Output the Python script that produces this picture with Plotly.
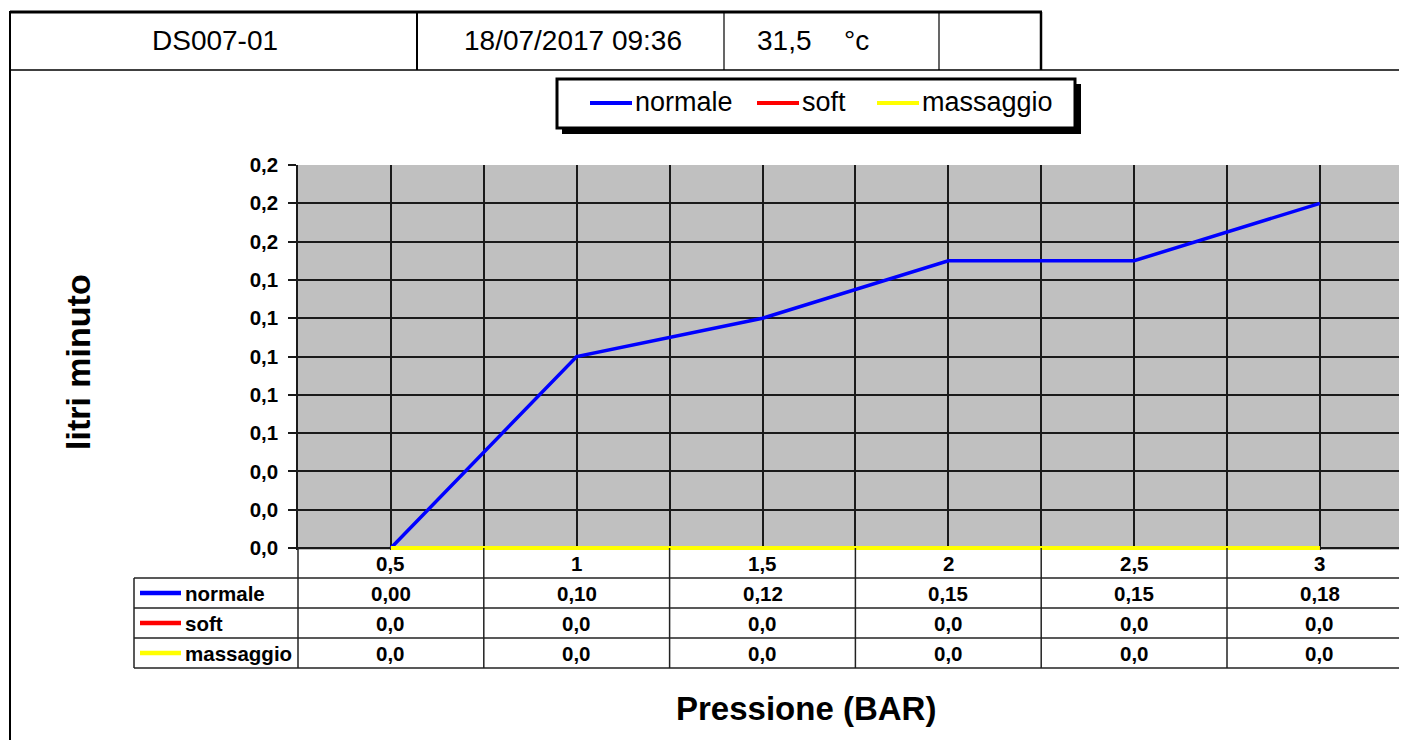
import plotly.graph_objects as go

# ---------------- data ----------------
pressione = [0.5, 1, 1.5, 2, 2.5, 3]
normale = [0.00, 0.10, 0.12, 0.15, 0.15, 0.18]
soft = [0.0, 0.0, 0.0, 0.0, 0.0, 0.0]
massaggio = [0.0, 0.0, 0.0, 0.0, 0.0, 0.0]
series_names = ["normale", "soft", "massaggio"]
series_colors = ["#0000FF", "#FF0000", "#FFFF00"]
series_decimals = [2, 1, 1]
header_cells = ["DS007-01", "18/07/2017 09:36", "31,5", "°c"]
y_ticks = [0.0, 0.02, 0.04, 0.06, 0.08, 0.10, 0.12, 0.14, 0.16, 0.18, 0.20]

FONT = "Liberation Sans, Arial, sans-serif"

# ---------------- geometry (screen pixels) ----------------
OFF = 8  # page body margin
WIDTH, HEIGHT = 1407, 740
L, R, T, B = 298, 1407, 165, 550
Y0PX = 548  # pixel row of value 0
PW, PH = R - L, B - T
STEP = 185.8  # pixels per category
xmin = -0.5
xmax = xmin + PW / STEP
ymax = 0.2
ymin = -ymax * (B - Y0PX) / (Y0PX - T)


def px(x):
    return (x - L) / PW


def py(y):
    return (B - y) / PH


def dx(v):
    return (v - xmin) / (xmax - xmin)


xi = list(range(len(pressione)))
all_series = [normale, soft, massaggio]

fig = go.Figure()
for name, vals, col in zip(series_names, all_series, series_colors):
    fig.add_trace(go.Scatter(
        x=xi, y=vals, mode="lines", name=name,
        line=dict(color=col, width=4 if name != "normale" else 3.5),
        showlegend=False, hoverinfo="skip"))

shapes = []
ann = []


def line(x0, y0, x1, y1, w=1.5, c="#222"):
    shapes.append(dict(type="line", xref="paper", yref="paper",
                       x0=px(x0), y0=py(y0), x1=px(x1), y1=py(y1),
                       line=dict(color=c, width=w), layer="above"))


def text(x, y, s, size, bold=False, xanchor="center", yanchor="middle", xref="paper", angle=0):
    ann.append(dict(x=x if xref == "x" else px(x), y=py(y), xref=xref, yref="paper",
                    text=s, showarrow=False, xanchor=xanchor, yanchor=yanchor,
                    textangle=angle,
                    font=dict(family=FONT, size=size, color="#000",
                              weight="bold" if bold else "normal")))


# ---------------- header table ----------------
line(10, 12, 1042, 12, 3, "#000")
line(10, 11, 10, 760, 2, "#000")
line(10, 70, 1420, 70, 1.5, "#000")
line(417, 12, 417, 70, 2, "#000")
line(724, 12, 724, 70, 1.2, "#000")
line(939, 12, 939, 70, 1.2, "#000")
line(1041, 12, 1041, 70, 2.5, "#000")
text(215, 41, header_cells[0], 28)
text(573, 41, header_cells[1], 28)
text(755, 41, header_cells[2], 28, xanchor="left")
text(842, 41, header_cells[3], 28, xanchor="left")

# ---------------- legend box ----------------
shapes.append(dict(type="rect", xref="paper", yref="paper",
                   x0=px(562), y0=py(134), x1=px(1081), y1=py(84),
                   fillcolor="#000", line=dict(width=0), layer="above"))
shapes.append(dict(type="rect", xref="paper", yref="paper",
                   x0=px(557), y0=py(128), x1=px(1075), y1=py(79),
                   fillcolor="#fff", line=dict(color="#000", width=3), layer="above"))
leg_x = [590, 757, 877]
for lx, name, col in zip(leg_x, series_names, series_colors):
    line(lx, 103, lx + 42, 103, 4, col)
    text(lx + 43, 102, name, 27, xanchor="left")

# ---------------- data table ----------------
rows_y = [578, 608, 638, 668]
for ry in rows_y:
    line(134, ry, 1420, ry, 1.5)
line(134, 578, 134, 668, 1.5)
line(L, 548, L, 668, 1.5)
for k in range(len(pressione)):
    xb = xi[k] + 0.5
    if xb < xmax:
        shapes.append(dict(type="line", xref="paper", yref="paper",
                           x0=dx(xb), x1=dx(xb), y0=py(548), y1=py(668),
                           line=dict(color="#222", width=1.5), layer="above"))
# header row: categories
for k, p in enumerate(pressione):
    text(xi[k], 563, f"{p:g}".replace(".", ","), 20.5, bold=True, xref="x")
# series rows
for r, (name, vals, col, dec) in enumerate(zip(series_names, all_series, series_colors, series_decimals)):
    cy = (rows_y[r] + rows_y[r + 1]) / 2
    line(140, cy, 181, cy, 4.5, col)
    text(183, cy, name, 20.5, bold=True, xanchor="left")
    for k, v in enumerate(vals):
        text(xi[k], cy, f"{v:.{dec}f}".replace(".", ","), 20.5, bold=True, xref="x")

# ---------------- axis titles ----------------
text(78, 362, "litri minuto", 34, bold=True, angle=-90)
text(806, 708, "Pressione (BAR)", 33, bold=True)

fig.update_layout(
    width=WIDTH, height=HEIGHT, autosize=False,
    margin=dict(l=L - OFF, r=WIDTH - (R - OFF), t=T - OFF, b=HEIGHT - (B - OFF), pad=0),
    paper_bgcolor="#fff", plot_bgcolor="#C0C0C0",
    separators=",.",
    showlegend=False,
    shapes=shapes, annotations=ann,
    font=dict(family=FONT, color="#000"),
)
fig.update_xaxes(range=[xmin, xmax], tickmode="linear", tick0=-0.5, dtick=0.5,
                 showgrid=True, gridcolor="#1a1a1a", gridwidth=1.5,
                 showticklabels=False, ticks="", zeroline=False, showline=False)
fig.update_yaxes(range=[ymin, ymax], tickmode="array", tickvals=y_ticks,
                 tickformat=".1f", showgrid=True, gridcolor="#1a1a1a", gridwidth=1.5,
                 ticks="outside", ticklen=8, tickcolor="#1a1a1a", tickwidth=1.5,
                 ticklabelstandoff=6,
                 tickfont=dict(family=FONT, size=20.5, color="#000", weight="bold"),
                 zeroline=False, showline=True, linecolor="#1a1a1a", linewidth=1.5)

fig.write_html("out.html")
